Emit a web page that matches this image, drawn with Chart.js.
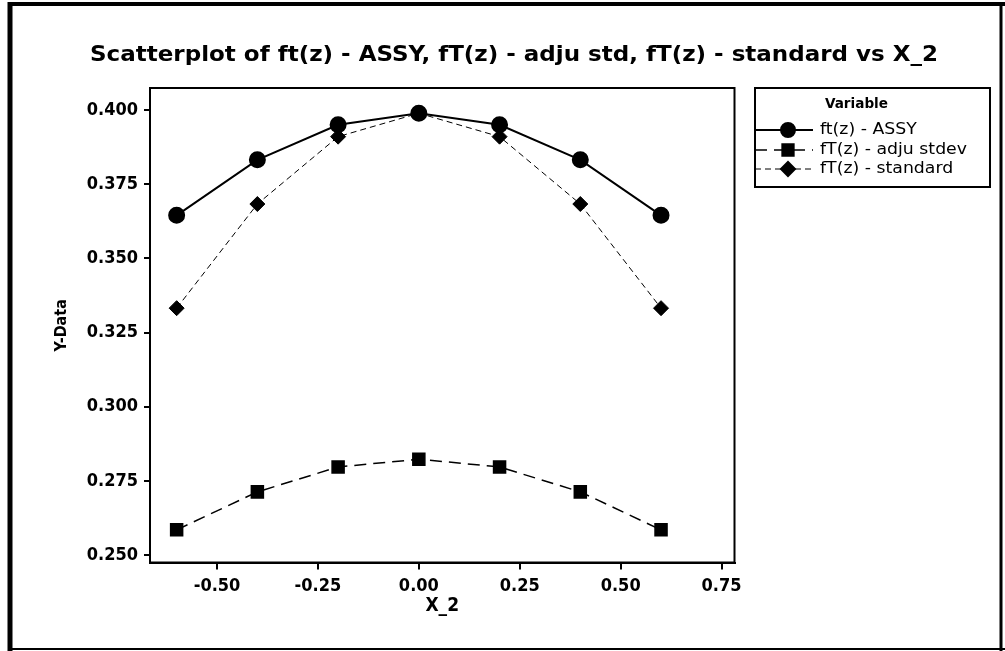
<!DOCTYPE html>
<html>
<head>
<meta charset="utf-8">
<script src="https://cdn.jsdelivr.net/npm/chart.js@4.4.0/dist/chart.umd.min.js"></script>
<style>
html,body{margin:0;padding:0;background:#fff;}
#wrap{width:1005px;height:651px;position:relative;}
</style>
</head>
<body>
<div id="wrap"><canvas id="c" width="1005" height="651"></canvas></div>
<script>
const xValues = [-0.6, -0.4, -0.2, 0.0, 0.2, 0.4, 0.6];
const assyValues = [0.3645, 0.3832, 0.3950, 0.3989, 0.3950, 0.3832, 0.3645];
const adjuValues = [0.2585, 0.2713, 0.2797, 0.2823, 0.2797, 0.2713, 0.2585];
const standardValues = [0.3332, 0.3683, 0.3910, 0.3989, 0.3910, 0.3683, 0.3332];
const xTicks = [-0.50, -0.25, 0.00, 0.25, 0.50, 0.75];
const yTicks = [0.250, 0.275, 0.300, 0.325, 0.350, 0.375, 0.400];
const seriesNames = ['ft(z) - ASSY', 'fT(z) - adju stdev', 'fT(z) - standard'];
const titleText = 'Scatterplot of ft(z) - ASSY, fT(z) - adju std, fT(z) - standard vs X_2';

const FONT = "'DejaVu Sans Condensed', 'DejaVu Sans', sans-serif";
const FONT_W = "'DejaVu Sans', sans-serif";

function pts(ys){ return xValues.map((x,i)=>({x:x,y:ys[i]})); }

const datasets = [
  {label: seriesNames[0], data: pts(assyValues), showLine:true, borderColor:'#000', backgroundColor:'#000',
   borderWidth:2, pointStyle:'circle', pointRadius:7.5, borderDash:[]},
  {label: seriesNames[1], data: pts(adjuValues), showLine:true, borderColor:'#000', backgroundColor:'#000',
   borderWidth:1.5, pointStyle:'rect', pointRadius:8.5, borderDash:[12,7]},
  {label: seriesNames[2], data: pts(standardValues), showLine:true, borderColor:'#000', backgroundColor:'#000',
   borderWidth:1, pointStyle:'rectRot', pointRadius:7.5, borderDash:[6,4]}
];

function fitText(ctx, text, x, y, width){
  const w = ctx.measureText(text).width;
  const k = width / w;
  ctx.save();
  ctx.translate(x, y);
  ctx.scale(k, 1);
  ctx.fillText(text, 0, 0);
  ctx.restore();
  return k;
}

const framePlugin = {
  id:'frame',
  beforeDraw(chart){
    const ctx = chart.ctx;
    ctx.save();
    ctx.fillStyle='#fff'; ctx.fillRect(0,0,chart.width,chart.height);
    ctx.strokeStyle='#000';
    ctx.lineWidth=5; ctx.beginPath(); ctx.moveTo(10,2); ctx.lineTo(10,651); ctx.stroke();
    ctx.lineWidth=4; ctx.beginPath(); ctx.moveTo(8,4); ctx.lineTo(1005,4); ctx.stroke();
    ctx.lineWidth=3; ctx.beginPath(); ctx.moveTo(1001,2); ctx.lineTo(1001,651); ctx.stroke();
    ctx.lineWidth=2; ctx.beginPath(); ctx.moveTo(8,649); ctx.lineTo(1005,649); ctx.stroke();
    ctx.restore();
  },
  afterDatasetsDraw(chart){
    const ctx = chart.ctx, a = chart.chartArea;
    ctx.save();
    ctx.strokeStyle='#000'; ctx.lineWidth=2;
    ctx.strokeRect(a.left, a.top, a.right-a.left, a.bottom-a.top);
    // title
    ctx.fillStyle='#000';
    ctx.font = "bold 22px " + FONT_W;
    ctx.textAlign='center'; ctx.textBaseline='middle';
    fitText(ctx, titleText, 514, 55, 848);
    // legend
    const L=755, T=88, R=990, B=187;
    ctx.lineWidth=2;
    ctx.strokeRect(L, T, R-L, B-T);
    ctx.textAlign='left';
    ctx.font = "bold 14px " + FONT;
    fitText(ctx, 'Variable', 825, 104, 63);
    ctx.font = "15px " + FONT_W;
    const k = 147 / ctx.measureText(seriesNames[1]).width;
    const rows=[130,150,169];
    datasets.forEach((d,i)=>{
      const y=rows[i];
      ctx.save();
      ctx.lineWidth=d.borderWidth; ctx.setLineDash(d.borderDash);
      ctx.beginPath(); ctx.moveTo(L,y); ctx.lineTo(813,y); ctx.stroke();
      ctx.restore();
      Chart.helpers.drawPoint(ctx,{pointStyle:d.pointStyle, radius:d.pointRadius-0.5, rotation:0, borderWidth:1}, 788, y);
      ctx.fill();
      ctx.save(); ctx.translate(820, y); ctx.scale(k,1); ctx.fillText(d.label, 0, 0); ctx.restore();
    });
    ctx.restore();
  }
};

new Chart(document.getElementById('c'), {
  type:'scatter',
  data:{datasets:datasets},
  plugins:[framePlugin],
  options:{
    responsive:false, animation:false,
    layout:{padding:{left:52, top:88, right:270.5, bottom:33.5}},
    plugins:{legend:{display:false}, title:{display:false}, tooltip:{enabled:false}},
    scales:{
      x:{
        type:'linear', min:-0.666, max:0.782,
        afterBuildTicks(s){ s.ticks = xTicks.map(v=>({value:v})); },
        afterFit(s){ s.height = 55; },
        grid:{drawOnChartArea:false, drawTicks:true, tickLength:7, color:'#000', lineWidth:2},
        border:{display:true, color:'#000', width:2},
        ticks:{color:'#000', font:{family:FONT, size:18, weight:'bold'}, padding:6,
               callback:(v)=>v.toFixed(2)},
        title:{display:true, text:'X_2', color:'#000', font:{family:FONT, size:19, weight:'bold'}, padding:{top:0,bottom:0}}
      },
      y:{
        type:'linear', min:0.2475, max:0.4074,
        afterBuildTicks(s){ s.ticks = yTicks.map(v=>({value:v})); },
        afterFit(s){ s.width = 98; },
        grid:{drawOnChartArea:false, drawTicks:true, tickLength:6, color:'#000', lineWidth:2},
        border:{display:true, color:'#000', width:2},
        ticks:{color:'#000', font:{family:FONT, size:18, weight:'bold'}, padding:6,
               callback:(v)=>v.toFixed(3)},
        title:{display:true, text:'Y-Data', color:'#000', font:{family:FONT, size:16, weight:'bold'}, padding:{top:0,bottom:0}}
      }
    }
  }
});
</script>
</body>
</html>
